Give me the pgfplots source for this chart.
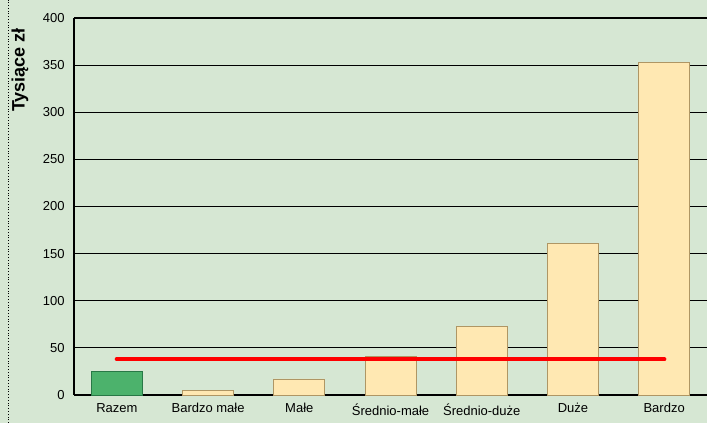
\documentclass[border=0pt]{standalone}
\usepackage{pgfplots}
\pgfplotsset{compat=1.18}
\usepackage{fontspec}
\setmainfont{Liberation Sans}
\definecolor{bg}{RGB}{214,231,211}
\definecolor{beige}{RGB}{255,232,178}
\definecolor{beigeedge}{RGB}{175,150,100}
\definecolor{grn}{RGB}{76,178,108}
\definecolor{grnedge}{RGB}{40,120,70}
\begin{document}
\begin{tikzpicture}
\fill[bg] (0pt,0pt) rectangle (707pt,423pt);
\path[use as bounding box] (0pt,0pt) rectangle (707pt,423pt);
\draw[black, dotted, line width=0.8pt] (8pt,0pt) -- (8pt,423pt);
\begin{axis}[
  at={(116.9pt,28pt)}, anchor=origin,
  scale only axis, width=633pt, height=377pt,
  xmin=-0.47, xmax=6.47, ymin=0, ymax=400,
  axis x line=bottom, axis y line=left,
  axis line style={-, line width=1.2pt, black},
  xtick={0,...,6},
  xticklabels={Razem, Bardzo małe, Małe, Średnio-małe, Średnio-duże, Duże, Bardzo},
  ytick={0,50,...,400},
  ymajorgrids, grid style={black, line width=1.1pt},
  major tick length=0pt,
  tick label style={font=\fontsize{13}{15}\selectfont},
  /pgf/number format/assume math mode=true,
  ylabel={Tysiące zł},
  ylabel style={at={(axis description cs:-0.0853,0.862)}, anchor=center, font=\fontsize{18}{20}\selectfont\bfseries},
  yticklabel style={xshift=-6pt},
  xticklabel style={yshift=-5pt},
  clip=false,
]
\addplot[ybar, bar width=51pt, bar shift=0pt, fill=grn, draw=grnedge, line width=0.8pt]
  coordinates {(0,25.5)};
\addplot[ybar, bar width=51pt, bar shift=0pt, fill=beige, draw=beigeedge, line width=0.8pt]
  coordinates {(1,5) (2,17) (3,41) (4,72.5) (5,161) (6,353)};
\addplot[red, line width=4.5pt, line cap=round, mark=none]
  coordinates {(0,38) (6,38)};
\end{axis}
\end{tikzpicture}
\end{document}
